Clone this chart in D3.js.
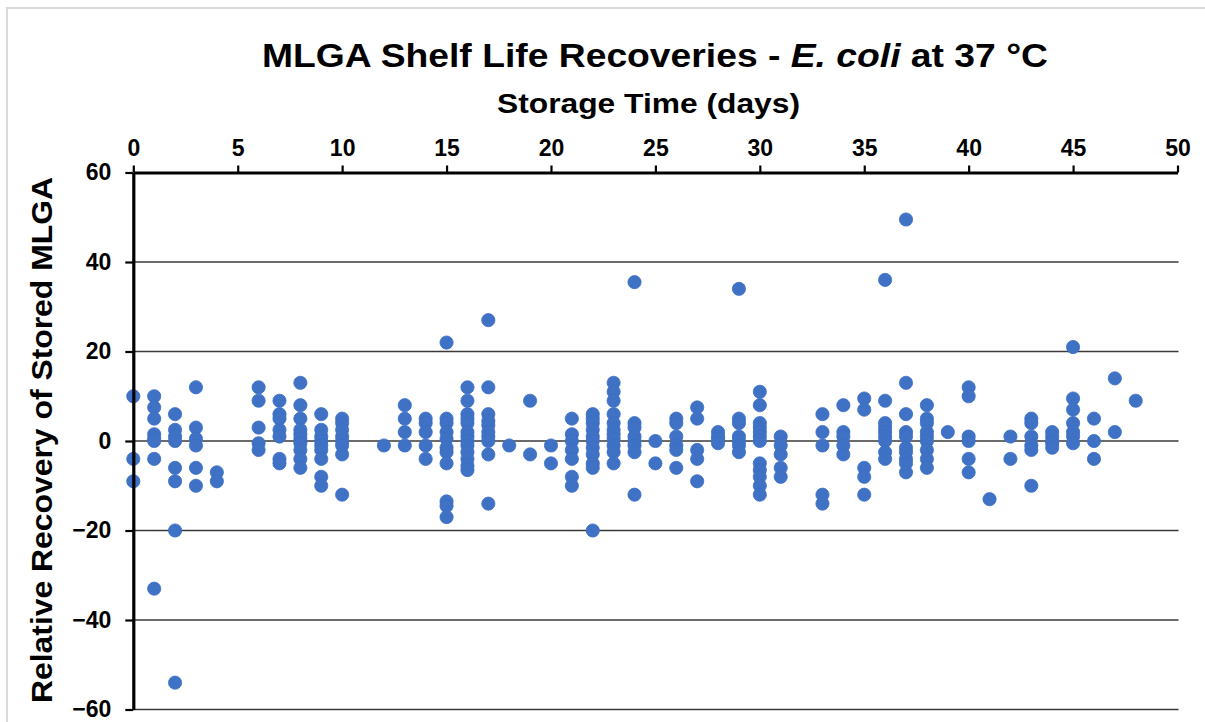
<!DOCTYPE html>
<html>
<head>
<meta charset="utf-8">
<script src="https://cdn.jsdelivr.net/npm/d3@7"></script>
<style>
  html, body { margin: 0; padding: 0; background: #fff; }
  svg { display: block; font-family: "Liberation Sans", Arial, sans-serif; }
</style>
</head>
<body>
<svg id="chart" width="1205" height="722"></svg>
<script>
// Storage days sampled, and the relative recoveries measured on each day
const storageDays = [0, 1, 2, 3, 4, 6, 7, 8, 9, 10, 12, 13, 14, 15, 16, 17, 18, 19, 20, 21, 22, 23, 24, 25, 26, 27, 28, 29, 30, 31, 33, 34, 35, 36, 37, 38, 39, 40, 41, 42, 43, 44, 45, 46, 47, 48];
const recoveriesByDay = [
  [10, -4, -9],
  [10, 7.5, 5, 1.5, 0.5, 0, -4, -33],
  [6, 2.5, 1, 0, -6, -9, -20, -54],
  [12, 3, 0.5, -1, -6, -10],
  [-7, -9],
  [12, 9, 3, -0.5, -2],
  [9, 6, 5, 2.5, 1, -4, -5],
  [13, 8, 5, 2.5, 1.5, 0.5, -0.5, -2, -4, -6],
  [6, 2.5, 1, 0, -1, -2, -4, -8, -10],
  [5, 4, 2.5, 1, 0, -1, -3, -12],
  [-1],
  [8, 5, 2, -1],
  [5, 4, 2, -1, -4],
  [22, 5, 4, 2, 0.5, -1.5, -2.5, -5, -13.5, -14.5, -17],
  [12, 9, 6, 5, 4, 2, 1, 0, -1, -2.5, -4, -5.5, -6.5],
  [27, 12, 6, 4.5, 3.5, 2, 1, 0, -3, -14],
  [-1],
  [9, -3],
  [-1, -5],
  [5, 1.5, 0, -2, -4, -8, -10],
  [6, 5, 4, 2.5, 1, 0, -1.5, -3, -5, -6, -20],
  [13, 11, 9, 6, 4, 2.5, 1.5, 0.5, -1, -2.5, -5],
  [35.5, 4, 3, 1, 0, -1, -2.5, -12],
  [0, -5],
  [5, 4, 1, -1, -2, -6],
  [7.5, 5, -2, -4, -9],
  [2, 1, 0.5, -0.5],
  [34, 5, 4, 1, 0, -1, -2.5],
  [11, 8, 4, 3, 2, 1, 0, -5, -6.5, -8, -10, -12],
  [1, -1, -3, -6, -8],
  [6, 2, -1, -12, -14],
  [8, 2, 1, -1, -3],
  [9.5, 7, -6, -8, -12],
  [36, 9, 4, 3, 2, 1, 0, -2.5, -4],
  [49.5, 13, 6, 2, 1, -1.5, -2.5, -4, -5, -7],
  [8, 5, 4, 2, 1, 0, -2, -4, -6],
  [2],
  [12, 10, 1, 0, -4, -7],
  [-13],
  [1, -4],
  [5, 4, 1, -1, -2, -10],
  [2, 1, 0, -0.5, -1.5],
  [21, 9.5, 7, 4, 2, 1, -0.5],
  [5, 0, -4],
  [14, 2],
  [9]
];
const xTicks = [0, 5, 10, 15, 20, 25, 30, 35, 40, 45, 50];
const yTicks = [60, 40, 20, 0, -20, -40, -60];

const points = [];
storageDays.forEach((d, i) => recoveriesByDay[i].forEach(v => points.push({ day: d, value: v })));

const svg = d3.select("#chart");
const plotLeft = 133.3, plotRight = 1177.5, plotTop = 172.5, plotBottom = 709.5;

const x = d3.scaleLinear().domain([0, 50]).range([plotLeft, plotRight]);
const y = d3.scaleLinear().domain([-60, 60]).range([plotBottom, plotTop]);

// chart area border
svg.append("rect")
  .attr("x", 7).attr("y", 8).attr("width", 1210).attr("height", 730)
  .attr("fill", "#fff").attr("stroke", "#d9d9d9").attr("stroke-width", 2);

// horizontal gridlines
svg.append("g")
  .selectAll("line")
  .data(yTicks.filter(t => t !== 60))
  .join("line")
  .attr("x1", plotLeft).attr("x2", plotRight + 1)
  .attr("y1", d => y(d)).attr("y2", d => y(d))
  .attr("stroke", "#3a3a3a").attr("stroke-width", 1.3);

// markers
svg.append("g")
  .selectAll("circle")
  .data(points)
  .join("circle")
  .attr("cx", d => x(d.day))
  .attr("cy", d => y(d.value))
  .attr("r", 6.6)
  .attr("fill", "#3f72c5")
  .attr("stroke", "#3a6fc4")
  .attr("stroke-width", 0.8);

// top x axis
const xAxis = svg.append("g")
  .attr("transform", `translate(0,${plotTop})`)
  .call(d3.axisTop(x).tickValues(xTicks).tickSize(7).tickPadding(10).tickSizeOuter(0));
xAxis.select(".domain").attr("stroke", "#000").attr("stroke-width", 3.2);
xAxis.selectAll(".tick line").attr("stroke", "#000").attr("stroke-width", 2.2);
xAxis.selectAll(".tick text")
  .attr("font-family", "'Liberation Sans', Arial, sans-serif")
  .attr("font-size", 23).attr("font-weight", "bold").attr("fill", "#000");

// left y axis
const yAxis = svg.append("g")
  .attr("transform", `translate(${plotLeft},0)`)
  .call(d3.axisLeft(y).tickValues(yTicks).tickSize(8).tickPadding(14).tickSizeOuter(0));
yAxis.select(".domain").attr("stroke", "#000").attr("stroke-width", 3.2);
yAxis.selectAll(".tick line").attr("stroke", "#000").attr("stroke-width", 2.2);
yAxis.selectAll(".tick text")
  .attr("font-family", "'Liberation Sans', Arial, sans-serif")
  .attr("font-size", 23).attr("font-weight", "bold").attr("fill", "#000");

// title
const title = svg.append("text")
  .attr("x", 655).attr("y", 67)
  .attr("text-anchor", "middle")
  .attr("font-size", 33).attr("font-weight", "bold")
  .attr("textLength", 786).attr("lengthAdjust", "spacingAndGlyphs");
title.append("tspan").text("MLGA Shelf Life Recoveries - ");
title.append("tspan").attr("font-style", "italic").text("E. coli");
title.append("tspan").text(" at 37 °C");

// x axis title
svg.append("text")
  .attr("x", 648.5).attr("y", 113)
  .attr("text-anchor", "middle")
  .attr("font-size", 28).attr("font-weight", "bold")
  .attr("textLength", 303).attr("lengthAdjust", "spacingAndGlyphs")
  .text("Storage Time (days)");

// y axis title
svg.append("text")
  .attr("transform", "translate(52,440) rotate(-90)")
  .attr("text-anchor", "middle")
  .attr("font-size", 30).attr("font-weight", "bold")
  .attr("textLength", 526).attr("lengthAdjust", "spacingAndGlyphs")
  .text("Relative Recovery of Stored MLGA");
</script>
</body>
</html>
